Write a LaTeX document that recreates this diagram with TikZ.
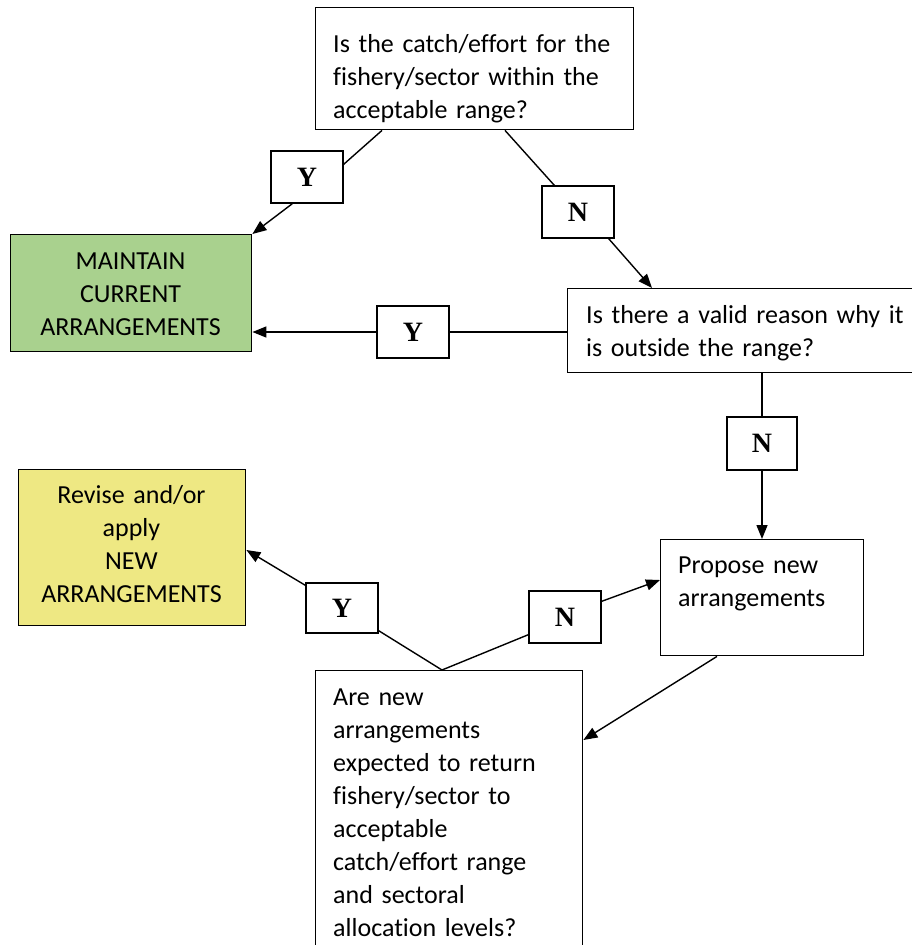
\documentclass[tikz,border=0pt]{standalone}
\usepackage{fontspec}
\setmainfont{Carlito}[Ligatures=CommonOff]
\newfontfamily\yn{Liberation Serif}
\usetikzlibrary{calc,arrows.meta}
\definecolor{boxgreen}{HTML}{A9D18E}
\definecolor{boxyellow}{HTML}{EEE883}
\tikzset{
  box/.style={draw=black, line width=1.4pt, rectangle, anchor=north west, inner sep=0pt, fill=white},
  lbl/.style={box, minimum width=72pt, minimum height=52pt, font=\yn\fontsize{28}{32}\selectfont\bfseries, anchor=center},
  txt/.style={inner sep=0pt, font=\fontsize{26}{33}\selectfont},
  conn/.style={line width=1.4pt, draw=black},
  arr/.style={conn, -{Triangle[length=14pt,width=11pt]}}
}
\begin{document}
\begin{tikzpicture}[x=1pt,y=-1pt]
\clip (0,0) rectangle (912,945);
\fill[white] (0,0) rectangle (912,945);
% boxes
\node[box, minimum width=318pt, minimum height=122pt] (q1) at (315,7) {};
\node[box, fill=boxgreen, minimum width=241pt, minimum height=117pt] (maintain) at (10,234) {};
\node[box, minimum width=350pt, minimum height=84pt] (q2) at (567,288) {};
\node[box, fill=boxyellow, minimum width=227pt, minimum height=156pt] (revise) at (18,469) {};
\node[box, minimum width=203pt, minimum height=116pt] (propose) at (660,539) {};
\node[box, minimum width=267pt, minimum height=300pt] (q3) at (315,670) {};
% Y / N labels
\node[lbl] (y1) at (307,177) {Y};
\node[lbl] (n1) at (578,212) {N};
\node[lbl] (y2) at (413,332) {Y};
\node[lbl, minimum width=70pt, minimum height=53pt] (n2) at (762,443.5) {N};
\node[lbl] (n3) at (565,617) {N};
\node[lbl, minimum height=50pt] (y3) at (342,608) {Y};
% texts
\node[txt, anchor=base west, align=left, text width=300pt] (t1) at (333,52)
  {Is the catch/effort for the\\fishery/sector within the\\acceptable range?};
\node[txt, anchor=base, align=center, text width=240pt] (t2) at (130.5,269)
  {MAINTAIN\\CURRENT\\ARRANGEMENTS};
\node[txt, anchor=base west, align=left, text width=330pt] (t3) at (586,323)
  {Is there a valid reason why it\\is outside the range?};
\node[txt, anchor=base, align=center, text width=226pt] (t4) at (131.5,503)
  {Revise and/or\\apply\\NEW\\ARRANGEMENTS};
\node[txt, anchor=base west, align=left, text width=180pt] (t5) at (678,573)
  {Propose new\\arrangements};
\node[txt, anchor=base west, align=left, text width=245pt] (t6) at (333,705)
  {Are new\\arrangements\\expected to return\\fishery/sector to\\acceptable\\catch/effort range\\and sectoral\\allocation levels?};
% connectors
\coordinate (apex) at ($(q3.north west)+(127,0)$);
\draw[conn] ($(q1.south west)+(67,0)$) -- ($(y1.north east)+(0,14)$);
\draw[arr] ($(y1.south west)+(22,0)$) -- (maintain.north east);
\draw[conn] ($(q1.south west)+(190,0)$) -- ($(n1.north west)+(13,0)$);
\draw[arr] ($(n1.south east)+(-6,0)$) -- ($(q2.north west)+(85,0)$);
\draw[conn] (q2.west |- y2.east) -- (y2.east);
\draw[arr] (y2.west) -- (maintain.east |- y2.west);
\draw[conn] (q2.south -| n2.north) -- (n2.north);
\draw[arr] (n2.south) -- (propose.north -| n2.south);
\draw[conn] (apex) -- ($(n3.south west)+(0,-9)$);
\draw[arr] ($(n3.north east)+(0,11)$) -- ($(propose.north west)+(0,41)$);
\draw[arr] ($(propose.south west)+(57,0)$) -- ($(q3.north east)+(0,70)$);
\draw[conn] (apex) -- ($(y3.south east)+(0,-3)$);
\draw[arr] ($(y3.north west)+(0,3)$) -- ($(revise.north east)+(0,81)$);
\end{tikzpicture}
\end{document}
